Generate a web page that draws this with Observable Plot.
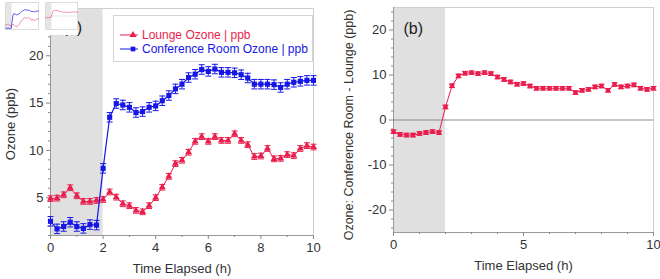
<!DOCTYPE html>
<html><head><meta charset="utf-8">
<script src="https://cdn.jsdelivr.net/npm/d3@7"></script>
<script src="https://cdn.jsdelivr.net/npm/@observablehq/plot@0.6"></script>
<style>
body{margin:0;background:#fff;font-family:"Liberation Sans",Arial,sans-serif;}
#wrap{position:relative;width:660px;height:279px;overflow:hidden;}
.abs{position:absolute;}
</style></head><body>
<div id="wrap">
  <div id="a" class="abs" style="left:0;top:0"></div>
  <div id="b" class="abs" style="left:330px;top:0"></div>
  <div id="legend" class="abs" style="left:113px;top:15px"></div>
  <div id="thumb" class="abs" style="left:0;top:0;width:78px;height:35px;background:#fff;display:flex"></div>
</div>
<script>
// ---- data ----
const hours = [0,0.25,0.5,0.75,1,1.25,1.5,1.75,2,2.25,2.5,2.75,3,3.25,3.5,3.75,4,4.25,4.5,4.75,5,5.25,5.5,5.75,6,6.25,6.5,6.75,7,7.25,7.5,7.75,8,8.25,8.5,8.75,9,9.25,9.5,9.75,10];
const lounge = [4.9,4.95,5.3,6.05,5.2,4.6,4.6,4.7,4.8,5.6,5.05,4.35,4.15,3.65,3.5,4.15,5.0,6.1,7.25,8.6,8.95,9.8,10.95,11.45,10.95,11.45,11.05,11.05,11.75,11.05,10.6,9.35,9.4,10.2,9.1,9.15,9.55,9.45,10.2,10.5,10.35];
const conference = [2.5,1.7,1.95,2.4,1.95,1.75,2.15,2.1,8.1,13.5,14.95,14.8,14.55,14.0,14.1,14.55,14.7,15.25,15.8,16.5,17.0,17.7,18.05,18.55,18.35,18.6,18.25,18.25,18.2,18.0,17.65,17.0,17.0,17.0,16.95,16.65,17.0,17.2,17.3,17.4,17.4];
const difference = [-2.6,-3.2,-3.35,-3.35,-3.0,-2.8,-2.6,-2.8,2.9,7.6,9.8,10.4,10.5,10.3,10.5,10.3,9.55,9.0,8.45,7.95,8.1,7.55,7.05,7.05,7.05,7.05,7.05,7.05,6.1,6.6,6.8,7.35,7.55,6.6,7.9,7.35,7.55,7.8,7.05,6.8,7.05];
const loungeErr = 0.3, conferenceErr = 0.5, differenceErr = 0.4;
const baseline = [0, 2];           // shaded period (h)
const xDomain = [0, 10];
const yDomainA = [1, 25];
const yDomainB = [-25, 25];
const xMajorA = [0,2,4,6,8,10];
const xMinorA = [1,3,5,7,9];
const yMajorA = [5,10,15,20];
const yMinorA = [1,2,3,4,6,7,8,9,11,12,13,14,16,17,18,19,21,22,23,24,25];
const xMajorB = [0,5,10];
const xMinorB = [1,2,3,4,6,7,8,9];
const yMajorB = [-20,-10,0,10,20];
const yMinorB = [-24,-22,-18,-16,-14,-12,-8,-6,-4,-2,2,4,6,8,12,14,16,18,22,24];
const seriesNames = ["Lounge Ozone | ppb", "Conference Room Ozone | ppb"];

// ---- styles ----
const red = "#e91e4c", blue = "#1616e6", shade = "#e0e0e0";
const font = "'Liberation Sans', Arial, sans-serif";
const cap = {draw(ctx, size){const w = Math.sqrt(size/Math.PI); ctx.moveTo(-w,0); ctx.lineTo(w,0);}};

const rows = hours.map((t,i) => ({t, lounge: lounge[i], conf: conference[i], diff: difference[i]}));

function errorMarks(key, err, color){
  return [
    Plot.ruleX(rows, {x:"t", y1: d => d[key]-err, y2: d => d[key]+err, stroke: color, strokeWidth: 1}),
    Plot.dot(rows, {x:"t", y: d => d[key]+err, symbol: cap, r: 3, stroke: color, fill: "none", strokeWidth: 1}),
    Plot.dot(rows, {x:"t", y: d => d[key]-err, symbol: cap, r: 3, stroke: color, fill: "none", strokeWidth: 1})
  ];
}
function axes(xMaj, xMin, yMaj, yMin){
  const fmt = d => String(d);
  return [
    Plot.axisX({ticks: xMaj, tickSize: 4, tickPadding: 3, label: null, tickFormat: fmt, stroke: "#888", fill: "#333", fontSize: 13}),
    Plot.axisX({ticks: xMin, tickSize: 2, text: null, label: null, stroke: "#888"}),
    Plot.axisY({ticks: yMaj, tickSize: 4, tickPadding: 3, label: null, tickFormat: fmt, stroke: "#888", fill: "#333", fontSize: 13}),
    Plot.axisY({ticks: yMin, tickSize: 2, text: null, label: null, stroke: "#888"})
  ];
}

// ---- panel (a) ----
const chartA = Plot.plot({
  width: 330, height: 279,
  marginLeft: 50, marginRight: 17, marginTop: 8, marginBottom: 44,
  style: {fontFamily: font, fontSize: "13px", color: "#333", background: "transparent"},
  x: {domain: xDomain},
  y: {domain: yDomainA},
  marks: [
    Plot.rect([baseline], {x1: d => d[0], x2: d => d[1], y1: yDomainA[0], y2: yDomainA[1], fill: shade}),
    Plot.frame({stroke: "#cfcfcf"}),
    Plot.ruleX([xDomain[0]], {stroke: "#999"}),
    Plot.ruleY([yDomainA[0]], {stroke: "#999"}),
    ...axes(xMajorA, xMinorA, yMajorA, yMinorA),
    Plot.line(rows, {x: "t", y: "lounge", stroke: red, strokeWidth: 1}),
    ...errorMarks("lounge", loungeErr, red),
    Plot.dot(rows, {x: "t", y: "lounge", symbol: "triangle", r: 2.6, fill: red}),
    Plot.line(rows, {x: "t", y: "conf", stroke: blue, strokeWidth: 1.2}),
    ...errorMarks("conf", conferenceErr, blue),
    Plot.dot(rows, {x: "t", y: "conf", symbol: "square", r: 2.9, fill: blue}),
    Plot.text(["(a)"], {frameAnchor: "top-left", textAnchor: "start", lineAnchor: "middle", dx: 12, dy: 19, fontSize: 16, fill: "#222"}),
    Plot.text(["Ozone (ppb)"], {frameAnchor: "left", textAnchor: "middle", lineAnchor: "middle", dx: -40, dy: 2, rotate: -90, fontSize: 13, fill: "#333"}),
    Plot.text(["Time Elapsed (h)"], {frameAnchor: "bottom", textAnchor: "middle", lineAnchor: "middle", dy: 33, fontSize: 13, fill: "#333"})
  ]
});
document.getElementById("a").append(chartA);

// ---- panel (b) ----
const chartB = Plot.plot({
  width: 330, height: 279,
  marginLeft: 63, marginRight: 7, marginTop: 7, marginBottom: 47,
  style: {fontFamily: font, fontSize: "13px", color: "#333", background: "transparent"},
  x: {domain: xDomain},
  y: {domain: yDomainB},
  marks: [
    Plot.rect([baseline], {x1: d => d[0], x2: d => d[1], y1: yDomainB[0], y2: yDomainB[1], fill: shade}),
    Plot.frame({stroke: "#cfcfcf"}),
    Plot.ruleX([xDomain[0]], {stroke: "#999"}),
    Plot.ruleY([yDomainB[0]], {stroke: "#999"}),
    Plot.ruleY([0], {stroke: "#8a8a8a"}),
    ...axes(xMajorB, xMinorB, yMajorB, yMinorB),
    Plot.line(rows, {x: "t", y: "diff", stroke: red, strokeWidth: 1}),
    ...errorMarks("diff", differenceErr, red),
    Plot.dot(rows, {x: "t", y: "diff", symbol: "square", r: 2.5, fill: red}),
    Plot.text(["(b)"], {frameAnchor: "top-left", textAnchor: "start", lineAnchor: "middle", dx: 10, dy: 21, fontSize: 16, fill: "#222"}),
    Plot.text(["Ozone: Conference Room - Lounge (ppb)"], {frameAnchor: "left", textAnchor: "middle", lineAnchor: "middle", dx: -45, dy: 5, rotate: -90, fontSize: 12.5, fill: "#333"}),
    Plot.text(["Time Elapsed (h)"], {frameAnchor: "bottom", textAnchor: "middle", lineAnchor: "middle", dy: 33, fontSize: 13, fill: "#333"})
  ]
});
document.getElementById("b").append(chartB);

// ---- legend (panel a) ----
const lg = d3.select("#legend").append("svg").attr("width", 200).attr("height", 47)
  .style("font-family", font);
lg.append("rect").attr("x", 0.5).attr("y", 0.5).attr("width", 199).attr("height", 46)
  .attr("fill", "#fff").attr("stroke", "#d4d4d4");
const legendRows = [
  {name: seriesNames[0], color: red, sym: d3.symbolTriangle, y: 20},
  {name: seriesNames[1], color: blue, sym: d3.symbolSquare, y: 34}
];
legendRows.forEach(r => {
  lg.append("line").attr("x1", 7).attr("x2", 25).attr("y1", r.y).attr("y2", r.y).attr("stroke", r.color);
  lg.append("path").attr("d", d3.symbol(r.sym, 22)()).attr("transform", `translate(20,${r.y})`).attr("fill", r.color);
  lg.append("text").attr("x", 29).attr("y", r.y + 4.3).attr("font-size", 12).attr("fill", r.color).text(r.name);
});

// ---- thumbnail (top-left inset) ----
const miniA = Plot.plot({
  width: 40, height: 35, marginLeft: 5, marginRight: 2, marginTop: 2, marginBottom: 6,
  axis: null, x: {domain: xDomain}, y: {domain: yDomainA},
  style: {background: "transparent"},
  marks: [
    Plot.rect([baseline], {x1: d => d[0], x2: d => d[1], y1: yDomainA[0], y2: yDomainA[1], fill: "#e6e6e6"}),
    Plot.frame({stroke: "#ddd"}),
    Plot.line(rows, {x: "t", y: "lounge", stroke: red, strokeWidth: 0.8, strokeOpacity: 0.6}),
    Plot.line(rows, {x: "t", y: "conf", stroke: blue, strokeWidth: 1, strokeOpacity: 0.7})
  ]
});
const miniB = Plot.plot({
  width: 38, height: 35, marginLeft: 5, marginRight: 1, marginTop: 2, marginBottom: 6,
  axis: null, x: {domain: xDomain}, y: {domain: yDomainB},
  style: {background: "transparent"},
  marks: [
    Plot.rect([baseline], {x1: d => d[0], x2: d => d[1], y1: yDomainB[0], y2: yDomainB[1], fill: "#e6e6e6"}),
    Plot.frame({stroke: "#ddd"}),
    Plot.ruleY([0], {stroke: "#ccc", strokeWidth: 0.5}),
    Plot.line(rows, {x: "t", y: "diff", stroke: red, strokeWidth: 0.8, strokeOpacity: 0.6})
  ]
});
document.getElementById("thumb").append(miniA, miniB);
</script>
</body></html>
